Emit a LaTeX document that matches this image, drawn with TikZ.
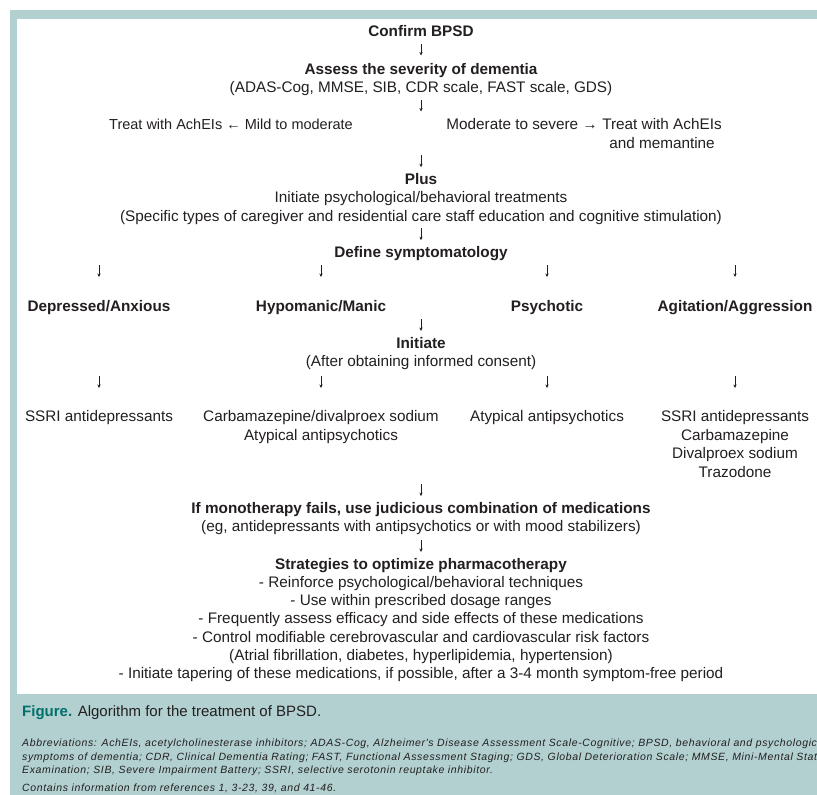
\documentclass[tikz,border=0pt]{standalone}
\usepackage{fontspec}
\setmainfont{Liberation Sans}
\newfontfamily\notafont[LetterSpace=6]{Liberation Sans}
\usetikzlibrary{arrows.meta,calc}
\definecolor{ink}{RGB}{35,31,32}
\definecolor{marco}{RGB}{178,208,208}
\definecolor{verdeo}{RGB}{0,112,106}
\tikzset{
  txt/.style={anchor=base, align=center, inner sep=0pt, text=ink, font=\fontsize{15.3}{18.7}\selectfont},
  tit/.style={txt, font=\fontsize{15.3}{18.7}\selectfont\bfseries},
  nota/.style={anchor=base west, align=left, inner sep=0pt, text=ink, font=\fontsize{10.5}{13.5}\notafont\itshape},
  fl/.style={-{Stealth[length=3.5pt,width=3.2pt]}, line width=0.55pt, ink},
}
\begin{document}
\begin{tikzpicture}[x=1pt,y=-1pt]
  \useasboundingbox (0,0) rectangle (817,795);
  % frame
  \fill[marco] (10,10) rectangle (817,795);
  \fill[white] (17,19) rectangle (817,694);
  % main column (multi-line nodes sit on their last baseline)
  \node[tit] (confirm) at (421,36.5) {Confirm BPSD};
  \node[tit] (assess) at (421,74.5) {Assess the severity of dementia};
  \node[txt] (scales) at (421,92.5) {(ADAS-Cog, MMSE, SIB, CDR scale, FAST scale, GDS)};
  \node[txt, font=\fontsize{14.5}{18.7}\selectfont] (mild) at (231,129.5) {Treat with AchEIs ← Mild to moderate};
  \node[txt] (trt2) at (662,148.2) {Treat with AchEIs\\and memantine};
  \node[txt, anchor=base east] (mod) at (598,129.5) {Moderate to severe →};
  \node[tit] (plus) at (421,184.5) {Plus};
  \node[txt] (psych) at (421,221.2) {Initiate psychological/behavioral treatments\\(Specific types of caregiver and residential care staff education and cognitive stimulation)};
  \node[tit] (symp) at (421,257.5) {Define symptomatology};
  % symptom groups
  \node[tit] (dep) at (99,311.5) {Depressed/Anxious};
  \node[tit] (hypo) at (321,311.5) {Hypomanic/Manic};
  \node[tit] (psyc) at (547,311.5) {Psychotic};
  \node[tit] (agit) at (735,311.5) {Agitation/Aggression};
  \node[tit] (init) at (421,348.5) {Initiate};
  \node[txt] (consent) at (421,366.5) {(After obtaining informed consent)};
  % medications
  \node[txt] (m1) at (99,421.5) {SSRI antidepressants};
  \node[txt] (m2) at (321,440.2) {Carbamazepine/divalproex sodium\\Atypical antipsychotics};
  \node[txt] (m3) at (547,421.5) {Atypical antipsychotics};
  \node[txt] (m4) at (735,477.6) {SSRI antidepressants\\Carbamazepine\\Divalproex sodium\\Trazodone};
  \node[tit] (mono) at (421,513.5) {If monotherapy fails, use judicious combination of medications};
  \node[txt] (eg) at (421,531.5) {(eg, antidepressants with antipsychotics or with mood stabilizers)};
  \node[tit] (strat) at (421,569.5) {Strategies to optimize pharmacotherapy};
  \node[txt, font=\fontsize{15.3}{18.2}\selectfont] (lista) at (421,678.5) {- Reinforce psychological/behavioral techniques\\
    - Use within prescribed dosage ranges\\
    - Frequently assess efficacy and side effects of these medications\\
    - Control modifiable cerebrovascular and cardiovascular risk factors\\
    (Atrial fibrillation, diabetes, hyperlipidemia, hypertension)\\
    - Initiate tapering of these medications, if possible, after a 3-4 month symptom-free period};
  % arrows
  \draw[fl] (confirm.base -| assess.north) ++(0,7) -- ++(0,12);
  \draw[fl] (scales.base -| plus.north) ++(0,7) -- ++(0,12);
  \draw[fl] (trt2.base -| plus.north) ++(0,7) -- ++(0,12);
  \draw[fl] (psych.base -| symp.north) ++(0,7) -- ++(0,12);
  \foreach \c in {dep,hypo,psyc,agit}
    \draw[fl] (symp.base -| \c.north) ++(0,7.5) -- ++(0,12);
  \draw[fl] (agit.base -| init.north) ++(0,7.5) -- ++(0,12);
  \foreach \c in {m1,m2,m3,m4}
    \draw[fl] (consent.base -| \c.north) ++(0,9.5) -- ++(0,12);
  \draw[fl] (m4.base -| mono.north) ++(0,6.5) -- ++(0,12);
  \draw[fl] (eg.base -| strat.north) ++(0,8.5) -- ++(0,12);
  % caption
  \node[anchor=base west, inner sep=0pt, text=ink, font=\fontsize{15}{18}\selectfont] (fig) at (22,716.5)
    {\textcolor{verdeo}{\bfseries Figure.} Algorithm for the treatment of BPSD.};
  \node[nota] (abrev) at (22,773.7) {Abbreviations: AchEIs, acetylcholinesterase inhibitors; ADAS-Cog, Alzheimer's Disease Assessment Scale-Cognitive; BPSD, behavioral and psychological\\
    symptoms of dementia; CDR, Clinical Dementia Rating; FAST, Functional Assessment Staging; GDS, Global Deterioration Scale; MMSE, Mini-Mental State\\
    Examination; SIB, Severe Impairment Battery; SSRI, selective serotonin reuptake inhibitor.};
  \node[nota] (refs) at (22,791.5) {Contains information from references 1, 3-23, 39, and 41-46.};
\end{tikzpicture}
\end{document}
